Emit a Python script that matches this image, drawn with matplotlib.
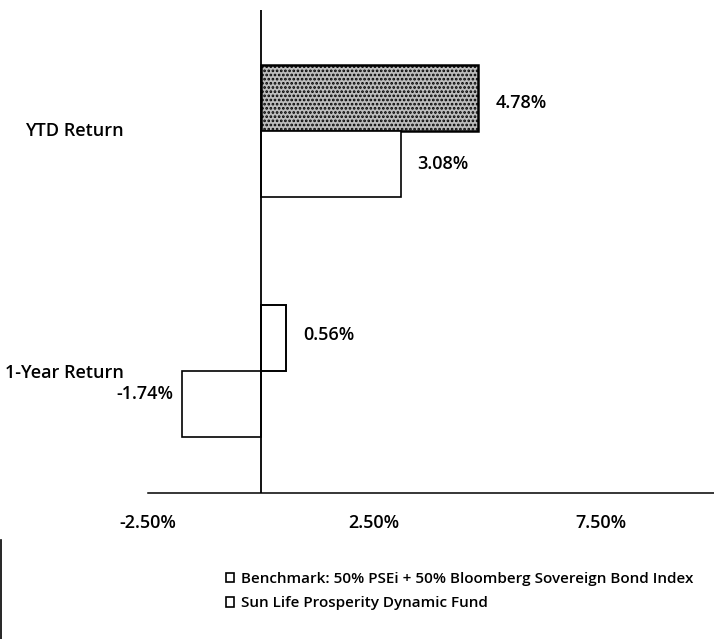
import matplotlib.pyplot as plt
from matplotlib.patches import Patch
from matplotlib.lines import Line2D

# --- data ------------------------------------------------------------------
categories = ["YTD Return", "1-Year Return"]
benchmark  = [4.78, 0.56]
fund       = [3.08, -1.74]
series     = ["Benchmark: 50% PSEi + 50% Bloomberg Sovereign Bond Index",
              "Sun Life Prosperity Dynamic Fund"]
xticks     = [-2.5, 2.5, 7.5]
xtick_lbls = ["-2.50%", "2.50%", "7.50%"]

plt.rcParams['font.family'] = ['Open Sans', 'DejaVu Sans']
plt.rcParams['font.weight'] = 'semibold'
plt.rcParams['hatch.linewidth'] = 1.3
FS = 13

fig = plt.figure(figsize=(7.14, 6.39), dpi=100)
ax = fig.add_axes([0.207, 0.2285, 0.793, 0.7555])

ypos = [1, 0]        # YTD on top
h = 0.275

# benchmark bars sit above the fund bars inside each group
bench_face  = ["#bdbdbd", "white"]
bench_hatch = ["....", None]
bench_lw    = [1.8, 1.4]
for y, v, fc, hh, lw in zip(ypos, benchmark, bench_face, bench_hatch, bench_lw):
    ax.barh(y + h / 2, v, height=h, color=fc, edgecolor="black", hatch=hh,
            linewidth=lw, zorder=2)
for y, v in zip(ypos, fund):
    ax.barh(y - h / 2, v, height=h, color="white", edgecolor="black",
            linewidth=1.2, zorder=2)

# value labels
ax.text(benchmark[0] + 0.4, ypos[0] + h / 2 - 0.02, f"{benchmark[0]:.2f}%",
        va="center", ha="left", fontsize=FS)
ax.text(fund[0] + 0.37, ypos[0] - h / 2, f"{fund[0]:.2f}%",
        va="center", ha="left", fontsize=FS)
ax.text(benchmark[1] + 0.38, ypos[1] + h / 2 + 0.01, f"{benchmark[1]:.2f}%",
        va="center", ha="left", fontsize=FS)
ax.text(fund[1] - 0.2, ypos[1] - h / 2 + 0.04, f"{fund[1]:.2f}%",
        va="center", ha="right", fontsize=FS)

ax.axvline(0, color="black", lw=1.3, zorder=3)

ax.set_xlim(-2.5, 10)
ax.set_ylim(-0.51, 1.505)
ax.set_xticks(xticks)
ax.set_xticklabels(xtick_lbls, fontsize=FS)
ax.tick_params(axis="x", length=0, pad=15)
ax.set_yticks([])
for s in ("top", "right", "left"):
    ax.spines[s].set_visible(False)
ax.spines["bottom"].set_linewidth(1.1)

# category labels, placed in figure pixels like the scan
fig.text(25 / 714, 1 - 131 / 639, categories[0], ha="left", va="center", fontsize=FS)
fig.text(5 / 714, 1 - 373 / 639, categories[1], ha="left", va="center", fontsize=FS)

handles = [Patch(facecolor="white", edgecolor="black", lw=1.2) for _ in series]
fig.legend(handles, series, loc="upper left", bbox_to_anchor=(226 / 714, 1 - 572 / 639),
           frameon=False, fontsize=11, handlelength=0.55, handleheight=0.55,
           handletextpad=0.45, labelspacing=0.68, borderpad=0, borderaxespad=0)

# scan edge mark on the lower left
fig.add_artist(Line2D([0.002, 0.002], [0, 0.155], color="black", lw=1.2))

fig.savefig("out.png", dpi=100)
